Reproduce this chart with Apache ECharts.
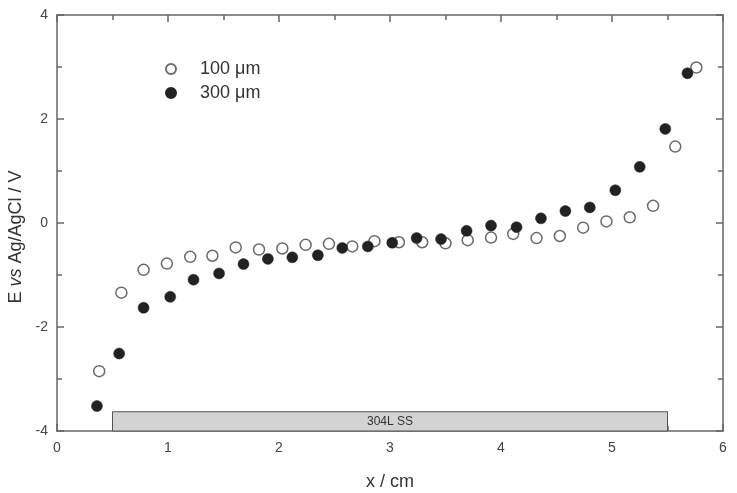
<!DOCTYPE html>
<html>
<head>
<meta charset="utf-8">
<script src="https://cdn.jsdelivr.net/npm/echarts@6/dist/echarts.min.js"></script>
<style>
	html, body { margin: 0; padding: 0; background: #fff; }
	#chart { width: 737px; height: 493px; }
</style>
</head>
<body>
<div id="chart"></div>
<script>
// open circles, 100 um
const x100 = [0.38, 0.58, 0.78, 0.99, 1.20, 1.40, 1.61, 1.82, 2.03, 2.24, 2.45, 2.66, 2.86, 3.08, 3.29, 3.50, 3.70, 3.91, 4.11, 4.32, 4.53, 4.74, 4.95, 5.16, 5.37, 5.57, 5.76]
const y100 = [-2.85, -1.34, -0.90, -0.78, -0.65, -0.63, -0.47, -0.51, -0.49, -0.42, -0.40, -0.45, -0.35, -0.37, -0.37, -0.39, -0.33, -0.28, -0.21, -0.29, -0.25, -0.09, 0.03, 0.11, 0.33, 1.47, 2.99]

// filled circles, 300 um
const x300 = [0.36, 0.56, 0.78, 1.02, 1.23, 1.46, 1.68, 1.90, 2.12, 2.35, 2.57, 2.80, 3.02, 3.24, 3.46, 3.69, 3.91, 4.14, 4.36, 4.58, 4.80, 5.03, 5.25, 5.48, 5.68]
const y300 = [-3.52, -2.51, -1.63, -1.42, -1.09, -0.97, -0.79, -0.69, -0.66, -0.62, -0.48, -0.45, -0.38, -0.29, -0.31, -0.15, -0.05, -0.08, 0.09, 0.23, 0.30, 0.63, 1.08, 1.81, 2.88]

// sample bar: x from, x to, y bottom, y top
const stripe = [0.5, 5.5, -4, -3.63]
const stripeLabel = '304L SS'

const names = ['100 μm', '300 μm']
const font = 'Liberation Sans, Arial, sans-serif'
const axisCol = '#666'

const pair = (xs, ys) => xs.map((x, i) => [x, ys[i]])

const xBase = {
	type: 'value',
	min: 0,
	max: 6,
	interval: 1,
	axisLine: { show: true, onZero: false, lineStyle: { color: axisCol, width: 1.5 } },
	axisTick: { show: true, inside: true, length: 7, lineStyle: { color: axisCol, width: 1.5 } },
	minorTick: { show: true, splitNumber: 2, length: 5, lineStyle: { color: axisCol, width: 1.5 } },
	splitLine: { show: false }
}
const yBase = {
	type: 'value',
	min: -4,
	max: 4,
	interval: 2,
	axisLine: { show: true, onZero: false, lineStyle: { color: axisCol, width: 1.5 } },
	axisTick: { show: true, inside: true, length: 7, lineStyle: { color: axisCol, width: 1.5 } },
	minorTick: { show: true, splitNumber: 2, length: 5, lineStyle: { color: axisCol, width: 1.5 } },
	splitLine: { show: false }
}

const chart = echarts.init(document.getElementById('chart'))
chart.setOption({
	backgroundColor: '#fff',
	animation: false,
	grid: { left: 57, right: 14, top: 15, bottom: 62, outerBoundsMode: 'none', containLabel: false },
	legend: {
		orient: 'vertical',
		left: 160,
		top: 55,
		itemWidth: 10,
		itemHeight: 10,
		itemGap: 6,
		data: names,
		textStyle: { fontFamily: font, fontSize: 18, lineHeight: 18, color: '#333', padding: [0, 0, 0, 19] }
	},
	xAxis: [
		Object.assign({}, xBase, {
			position: 'bottom',
			name: 'x / cm',
			nameLocation: 'middle',
			nameGap: 42,
			nameTextStyle: { fontFamily: font, fontSize: 18, color: '#333' },
			axisLabel: { fontFamily: font, fontSize: 14, color: '#444', margin: 10 }
		}),
		Object.assign({}, xBase, { position: 'top', axisLabel: { show: false } })
	],
	yAxis: [
		Object.assign({}, yBase, {
			position: 'left',
			name: '{n|E }{i|vs}{n| Ag/AgCl / V}',
			nameLocation: 'middle',
			nameGap: 30,
			nameTextStyle: {
				padding: [0, 28, 0, 0],
				rich: {
					n: { fontFamily: font, fontSize: 18, color: '#333' },
					i: { fontFamily: font, fontSize: 18, color: '#333', fontStyle: 'italic' }
				}
			},
			axisLabel: { fontFamily: font, fontSize: 14, color: '#444', margin: 9 }
		}),
		Object.assign({}, yBase, { position: 'right', axisLabel: { show: false } })
	],
	series: [
		{
			name: names[0],
			type: 'scatter',
			symbol: 'circle',
			symbolSize: 11,
			itemStyle: { color: '#fff', borderColor: '#6a6a6a', borderWidth: 1.5, opacity: 1 },
			data: pair(x100, y100),
			z: 3,
			markArea: {
				silent: true,
				itemStyle: { color: '#d3d3d3', borderColor: '#555', borderWidth: 1, opacity: 1 },
				label: { show: true, position: 'inside', fontFamily: font, fontSize: 12, color: '#333' },
				data: [[
					{ name: stripeLabel, coord: [stripe[0], stripe[2]] },
					{ coord: [stripe[1], stripe[3]] }
				]]
			}
		},
		{
			name: names[1],
			type: 'scatter',
			symbol: 'circle',
			symbolSize: 11,
			itemStyle: { color: '#222', borderColor: '#222', borderWidth: 0.5, opacity: 1 },
			data: pair(x300, y300),
			z: 4
		}
	]
})
</script>
</body>
</html>
